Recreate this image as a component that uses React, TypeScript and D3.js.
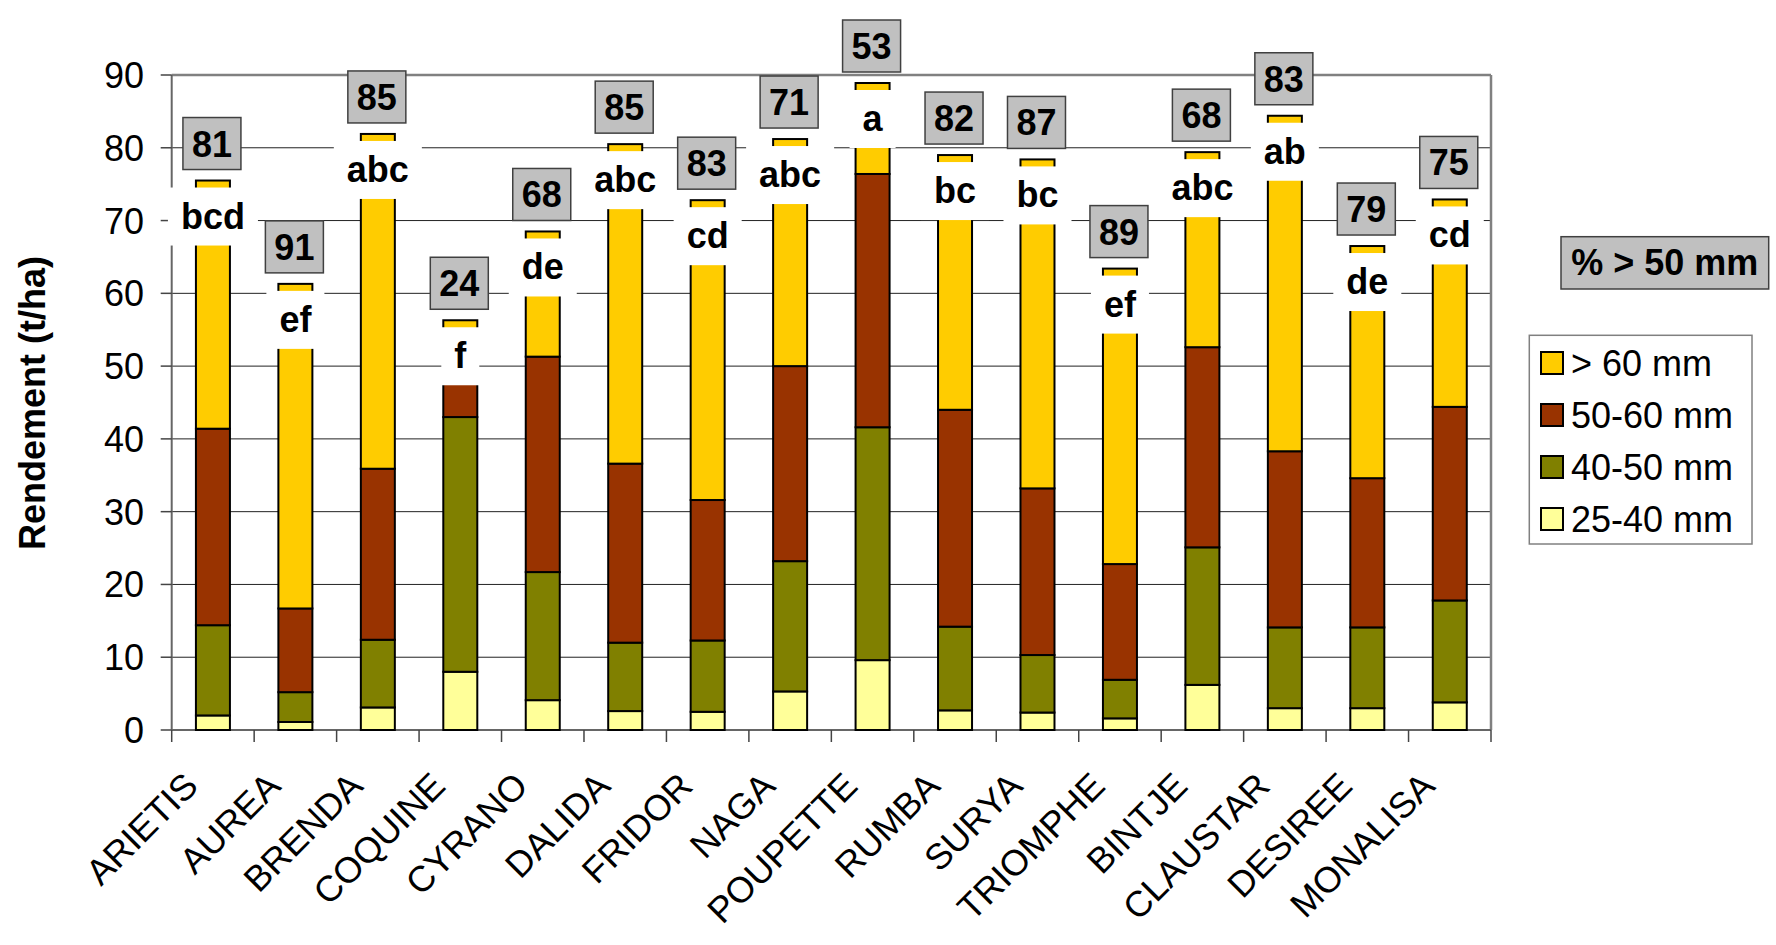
import React from "react";
import * as d3 from "d3";

const categories = ["ARIETIS", "AUREA", "BRENDA", "COQUINE", "CYRANO", "DALIDA", "FRIDOR", "NAGA", "POUPETTE", "RUMBA", "SURYA", "TRIOMPHE", "BINTJE", "CLAUSTAR", "DESIREE", "MONALISA"];
const s25to40 = [2.0, 1.1, 3.1, 8.0, 4.1, 2.6, 2.5, 5.3, 9.6, 2.7, 2.4, 1.6, 6.2, 3.0, 3.0, 3.8];
const s40to50 = [12.4, 4.1, 9.3, 35.0, 17.6, 9.4, 9.8, 17.9, 32.0, 11.5, 7.9, 5.3, 18.9, 11.1, 11.1, 14.0];
const s50to60 = [27.0, 11.5, 23.5, 11.7, 29.6, 24.6, 19.3, 26.8, 34.8, 29.8, 22.9, 15.9, 27.5, 24.2, 20.5, 26.6];
const sOver60 = [34.1, 44.6, 46.0, 1.6, 17.2, 43.9, 41.2, 31.2, 12.5, 35.0, 45.2, 40.6, 26.8, 46.1, 31.9, 28.5];
const pctOver50 = [81, 91, 85, 24, 68, 85, 83, 71, 53, 82, 87, 89, 68, 83, 79, 75];
const groups = ["bcd", "ef", "abc", "f", "de", "abc", "cd", "abc", "a", "bc", "bc", "ef", "abc", "ab", "de", "cd"];
const yTicks = [0, 10, 20, 30, 40, 50, 60, 70, 80, 90];
const seriesKeys = ["25-40 mm", "40-50 mm", "50-60 mm", "> 60 mm"];
const seriesColors = ["#FFFF99", "#808000", "#993300", "#FFCC00"];
const legendOrder = ["> 60 mm", "50-60 mm", "40-50 mm", "25-40 mm"];
const yTitle = "Rendement (t/ha)";
const pctTitle = "% > 50 mm";

const FONT = "'Liberation Sans', Arial, Helvetica, sans-serif";
const FS = 36;

let ctx: CanvasRenderingContext2D | null = null;
function textWidth(t: string, weight: string) {
  try {
    if (!ctx) ctx = document.createElement("canvas").getContext("2d");
    if (ctx) {
      ctx.font = `${weight} ${FS}px 'Liberation Sans', Arial, sans-serif`;
      return ctx.measureText(t).width;
    }
  } catch (e) {}
  return t.length * FS * 0.6;
}

export default function App() {
  const W = 1776, H = 945;
  const left = 171.7, right = 1491, top = 75, bottom = 730;

  const rows = categories.map((c, i) => ({
    cat: c,
    "25-40 mm": s25to40[i],
    "40-50 mm": s40to50[i],
    "50-60 mm": s50to60[i],
    "> 60 mm": sOver60[i],
  }));
  const stack = d3.stack<any>().keys(seriesKeys)(rows);

  const x = d3.scaleBand<string>().domain(categories).range([left, right]).paddingInner(0).paddingOuter(0);
  const y = d3.scaleLinear().domain([0, 90]).range([bottom, top]);
  const color = d3.scaleOrdinal<string, string>().domain(seriesKeys).range(seriesColors);

  const barW = 34;
  const cx = (c: string) => (x(c) as number) + x.bandwidth() / 2;
  const totals = rows.map((r, i) => s25to40[i] + s40to50[i] + s50to60[i] + sOver60[i]);

  const bandEdges = categories.map((c) => x(c) as number).concat([right]);

  return (
    <svg width={W} height={H} style={{ position: "absolute", left: 0, top: 0, background: "#fff" }} fontFamily={FONT}>
      {/* gridlines */}
      {yTicks.map((t) => (
        <line key={"g" + t} x1={left} x2={right} y1={y(t)} y2={y(t)} stroke={t === 90 ? "#808080" : "#222"} strokeWidth={t === 90 ? 2.5 : 1} />
      ))}
      {/* plot right border */}
      <line x1={right} x2={right} y1={top} y2={bottom} stroke="#808080" strokeWidth={2.5} />
      {/* y axis */}
      <line x1={left} x2={left} y1={top} y2={bottom} stroke="#666" strokeWidth={2} />
      {yTicks.map((t) => (
        <g key={"yt" + t}>
          <line x1={left - 11} x2={left} y1={y(t)} y2={y(t)} stroke="#444" strokeWidth={1.5} />
          <text x={144} y={y(t)} dy="0.36em" textAnchor="end" fontSize={FS} fill="#000">{t}</text>
        </g>
      ))}
      {/* x axis */}
      <line x1={left} x2={right} y1={bottom} y2={bottom} stroke="#666" strokeWidth={2} />
      {bandEdges.map((e, i) => (
        <line key={"xt" + i} x1={e} x2={e} y1={bottom} y2={bottom + 12} stroke="#444" strokeWidth={1.5} />
      ))}
      {/* bars */}
      {stack.map((s) => (
        <g key={s.key}>
          {s.map((d, i) => (
            <rect
              key={i}
              x={cx(categories[i]) - barW / 2}
              y={y(d[1])}
              width={barW}
              height={Math.max(0, y(d[0]) - y(d[1]))}
              fill={color(s.key)}
              stroke="#000"
              strokeWidth={2}
            />
          ))}
        </g>
      ))}
      {/* significance letters with white boxes */}
      {categories.map((c, i) => {
        const t = y(totals[i]);
        const w = textWidth(groups[i], "bold") + 26;
        return (
          <g key={"lg" + i}>
            <rect x={cx(c) - w / 2} y={t + 7} width={w} height={58} fill="#fff" />
            <text x={cx(c)} y={t + 48} textAnchor="middle" fontSize={FS} fontWeight="bold" fill="#000">{groups[i]}</text>
          </g>
        );
      })}
      {/* percentage boxes */}
      {categories.map((c, i) => {
        const t = y(totals[i]);
        const w = 58;
        return (
          <g key={"pc" + i}>
            <rect x={cx(c) - 1 - w / 2} y={t - 63} width={w} height={52} fill="#C0C0C0" stroke="#404040" strokeWidth={1.5} />
            <text x={cx(c) - 1} y={t - 24} textAnchor="middle" fontSize={FS} fontWeight="bold" fill="#000">{pctOver50[i]}</text>
          </g>
        );
      })}
      {/* category labels */}
      {categories.map((c) => (
        <text key={"cl" + c} transform={`translate(${cx(c) - 13},${bottom + 58}) rotate(-45)`} textAnchor="end" fontSize={FS} fill="#000">{c}</text>
      ))}
      {/* y title */}
      <text transform={`translate(45,403) rotate(-90)`} textAnchor="middle" fontSize={FS} fontWeight="bold" fill="#000">{yTitle}</text>
      {/* % > 50 mm box */}
      <rect x={1561} y={236.7} width={207.7} height={52.3} fill="#C0C0C0" stroke="#404040" strokeWidth={1.5} />
      <text x={1664.8} y={275} textAnchor="middle" fontSize={FS} fontWeight="bold" fill="#000">{pctTitle}</text>
      {/* legend */}
      <rect x={1529.3} y={335.3} width={222.7} height={208.7} fill="#fff" stroke="#808080" strokeWidth={1.5} />
      {legendOrder.map((k, i) => {
        const cy = 363 + i * 52;
        return (
          <g key={"lgd" + k}>
            <rect x={1541} y={cy - 11} width={22} height={22} fill={color(k)} stroke="#000" strokeWidth={2} />
            <text x={1571} y={cy + 12.6} fontSize={FS} fill="#000">{k}</text>
          </g>
        );
      })}
    </svg>
  );
}
